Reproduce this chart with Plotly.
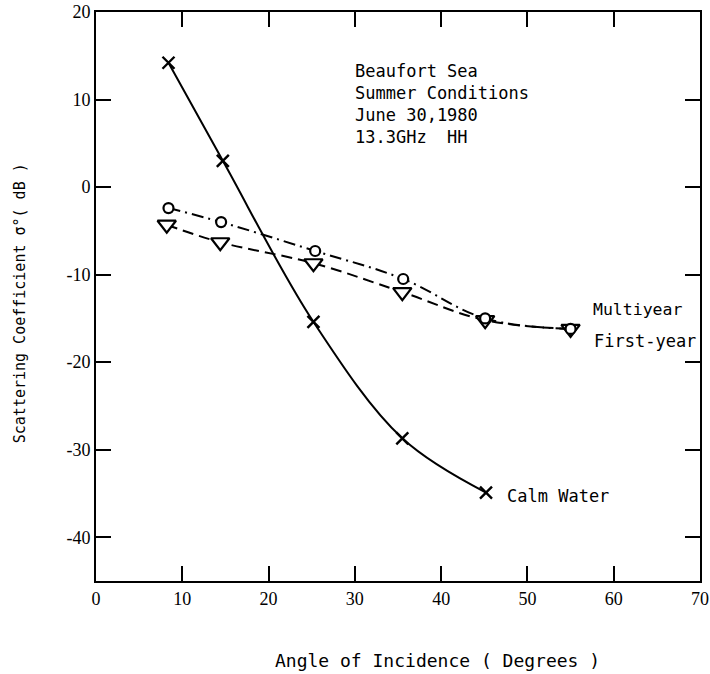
import plotly.graph_objects as go

# ---- data ----
calm_x = [8.4, 14.7, 25.2, 35.5, 45.2]
calm_y = [14.2, 3.0, -15.4, -28.7, -34.9]

multi_x = [8.4, 14.5, 25.4, 35.6, 45.1, 55.0]
multi_y = [-2.4, -4.0, -7.3, -10.5, -15.0, -16.2]

first_x = [8.2, 14.4, 25.2, 35.5, 45.1, 55.0]
first_y = [-4.3, -6.3, -8.7, -12.0, -15.2, -16.2]

x_ticks = [0, 10, 20, 30, 40, 50, 60, 70]
y_ticks = [20, 10, 0, -10, -20, -30, -40]
y_tick_labels = ["20", "10", "0", "-10", "-20", "-30", "-40"]

info_text = "Beaufort Sea<br>Summer Conditions<br>June 30,1980<br>13.3GHz  HH"

TEXT_FONT = "DejaVu Sans Mono"
TICK_FONT = "Liberation Serif"

fig = go.Figure()

fig.add_trace(go.Scatter(
    x=first_x, y=first_y, mode="lines+markers",
    line=dict(color="black", width=2, dash="11px,6px", shape="spline", smoothing=1.1),
    marker=dict(symbol="triangle-down", size=16, color="white",
                line=dict(color="black", width=2.2)),
    showlegend=False))

fig.add_trace(go.Scatter(
    x=multi_x, y=multi_y, mode="lines+markers",
    line=dict(color="black", width=2, dash="12px,5px,2px,5px", shape="spline", smoothing=1.1),
    marker=dict(symbol="circle", size=10, color="white",
                line=dict(color="black", width=2.2)),
    showlegend=False))

fig.add_trace(go.Scatter(
    x=calm_x, y=calm_y, mode="lines+markers",
    line=dict(color="black", width=2, shape="spline", smoothing=1.0),
    marker=dict(symbol="x-thin", size=12, color="black",
                line=dict(color="black", width=2.4)),
    showlegend=False))

annots = [
    dict(x=29.8, y=14.6, xref="x", yref="y", text=info_text, showarrow=False,
         xanchor="left", yanchor="top", align="left",
         font=dict(family=TEXT_FONT, size=17, color="black")),
    dict(x=47.4, y=-35.3, xref="x", yref="y", text="Calm Water", showarrow=False,
         xanchor="left", yanchor="middle",
         font=dict(family=TEXT_FONT, size=17, color="black")),
    dict(x=57.4, y=-14.0, xref="x", yref="y", text="Multiyear", showarrow=False,
         xanchor="left", yanchor="middle",
         font=dict(family=TEXT_FONT, size=16.5, color="black")),
    dict(x=57.5, y=-17.6, xref="x", yref="y", text="First-year", showarrow=False,
         xanchor="left", yanchor="middle",
         font=dict(family=TEXT_FONT, size=17, color="black")),
    dict(x=0.565, y=-0.139, xref="paper", yref="paper",
         text="Angle of Incidence ( Degrees )", showarrow=False,
         xanchor="center", yanchor="middle",
         font=dict(family=TEXT_FONT, size=18, color="black")),
    dict(x=-0.126, y=0.488, xref="paper", yref="paper",
         text="Scattering Coefficient σ°( dB )", showarrow=False,
         textangle=-90, xanchor="center", yanchor="middle",
         font=dict(family=TEXT_FONT, size=15, color="black")),
]

axis_common = dict(
    showline=True, linecolor="black", linewidth=2, mirror="ticks",
    ticks="inside", ticklen=15, tickwidth=2, tickcolor="black",
    showgrid=False, zeroline=False, automargin=False,
    tickfont=dict(family=TICK_FONT, size=18, color="black"),
)

fig.update_layout(
    width=710, height=674,
    margin=dict(l=96, r=10, t=12, b=93, autoexpand=False),
    paper_bgcolor="white", plot_bgcolor="white",
    xaxis=dict(range=[0, 70], tickvals=x_ticks, ticklabeloverflow="allow", **axis_common),
    yaxis=dict(range=[-45, 20], tickvals=y_ticks, ticktext=y_tick_labels, **axis_common),
    annotations=annots,
    showlegend=False,
)

fig.write_html("out.html")
